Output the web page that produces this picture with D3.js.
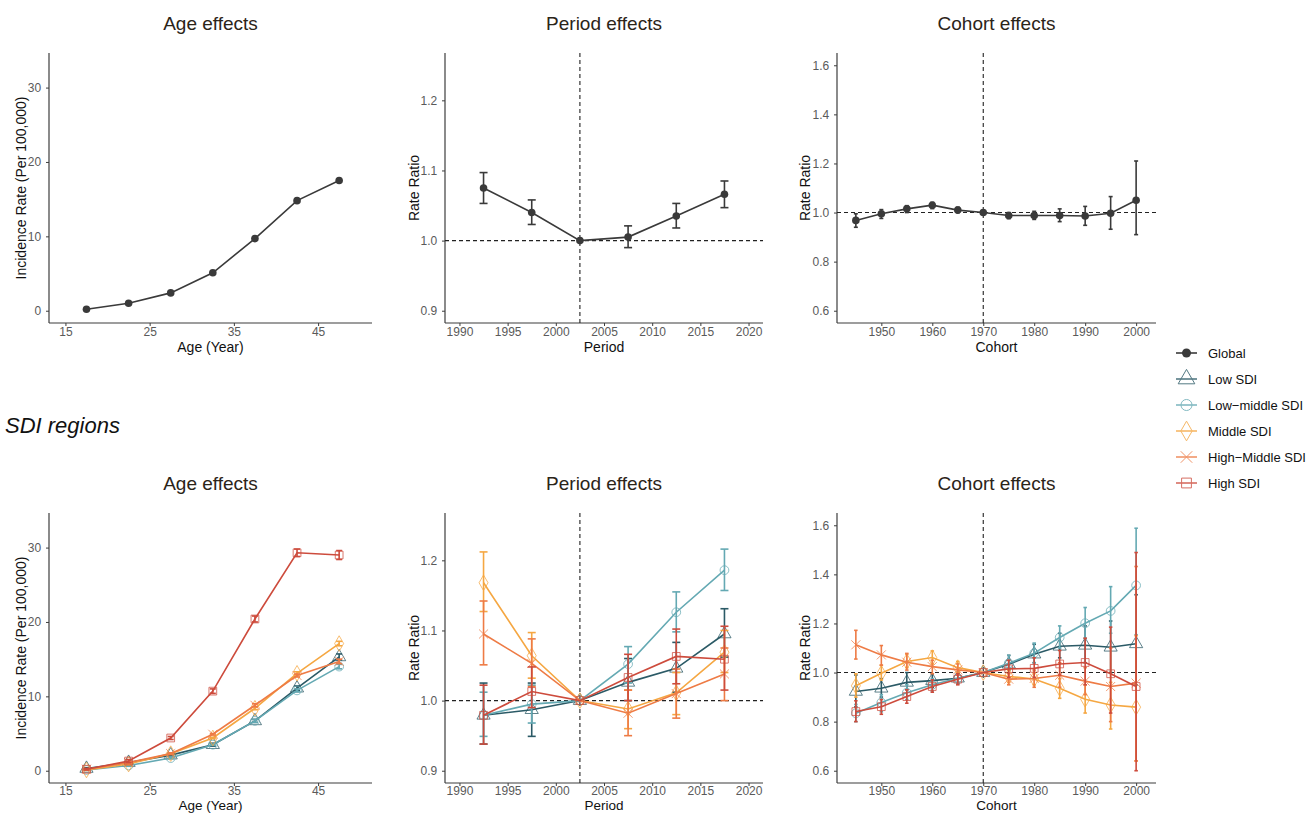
<!DOCTYPE html>
<html><head><meta charset="utf-8">
<script src="https://cdn.jsdelivr.net/npm/d3@7"></script>
<style>
html,body{margin:0;padding:0;background:#fff;}
svg{display:block;font-family:"Liberation Sans",Arial,Helvetica,sans-serif;}
</style></head><body>
<svg id="chart" width="1312" height="813"></svg>
<script>
// ---------------- DATA ----------------
const ageGroups = [17.5, 22.5, 27.5, 32.5, 37.5, 42.5, 47.5];
const periods   = [1992.5, 1997.5, 2002.5, 2007.5, 2012.5, 2017.5];
const cohorts   = [1945, 1950, 1955, 1960, 1965, 1970, 1975, 1980, 1985, 1990, 1995, 2000];

const ageTicks    = [15, 25, 35, 45];
const ageYTicks   = [0, 10, 20, 30];
const periodTicks = [1990, 1995, 2000, 2005, 2010, 2015, 2020];
const periodYTicks= [0.9, 1.0, 1.1, 1.2];
const cohortTicks = [1950, 1960, 1970, 1980, 1990, 2000];
const cohortYTicks= [0.6, 0.8, 1.0, 1.2, 1.4, 1.6];

const seriesNames = ["Global", "Low SDI", "Low\u2212middle SDI", "Middle SDI", "High\u2212Middle SDI", "High SDI"];
const seriesColors = ["#3a3a3a", "#2b5a66", "#64a9b3", "#f5a742", "#ee7b45", "#cd4b3c"];
const seriesShapes = ["dot", "triangle", "circle", "diamond", "cross", "square"];

// Global: age rate; period/cohort [value, lower, upper]
const globalAge = [0.2, 1.0, 2.4, 5.1, 9.7, 14.8, 17.5];
const globalPeriod = [[1.075,1.053,1.097],[1.040,1.023,1.058],[1.0,1.0,1.0],[1.005,0.990,1.021],[1.035,1.018,1.053],[1.066,1.047,1.085]];
const globalCohort = [[0.968,0.940,0.995],[0.995,0.976,1.012],[1.015,1.000,1.028],[1.030,1.016,1.042],[1.010,0.999,1.022],[1.0,1.0,1.0],
  [0.988,0.975,1.000],[0.988,0.972,1.005],[0.988,0.963,1.015],[0.986,0.948,1.025],[0.997,0.932,1.065],[1.050,0.910,1.210]];

// SDI regions: [value, lower, upper]
const lowAge       = [[0.3,0.2,0.4],[1.1,1.0,1.2],[2.1,2.0,2.3],[3.5,3.3,3.7],[6.7,6.5,6.9],[11.1,10.8,11.4],[15.3,14.9,15.7]];
const lowMidAge    = [[0.1,0.05,0.15],[0.7,0.6,0.8],[1.7,1.6,1.8],[3.5,3.4,3.6],[6.7,6.5,6.9],[10.8,10.6,11.0],[14.0,13.7,14.3]];
const midAge       = [[0.1,0.05,0.15],[0.9,0.8,1.0],[2.3,2.2,2.4],[4.4,4.3,4.5],[8.4,8.2,8.6],[13.1,12.9,13.3],[17.1,16.8,17.4]];
const highMidAge   = [[0.2,0.15,0.25],[1.1,1.0,1.2],[2.3,2.2,2.4],[4.9,4.8,5.0],[8.8,8.6,9.0],[12.8,12.6,13.0],[14.7,14.4,15.0]];
const highAge      = [[0.2,0.1,0.3],[1.3,1.1,1.5],[4.4,4.2,4.6],[10.7,10.4,11.0],[20.4,20.0,20.8],[29.3,28.8,29.8],[29.0,28.4,29.6]];

const lowPeriod    = [[0.979,0.938,1.025],[0.987,0.949,1.025],[1.0,1.0,1.0],[1.026,1.000,1.060],[1.046,1.012,1.083],[1.095,1.062,1.131]];
const lowMidPeriod = [[0.979,0.949,1.012],[0.995,0.968,1.022],[1.0,1.0,1.0],[1.052,1.025,1.077],[1.126,1.098,1.155],[1.186,1.157,1.216]];
const midPeriod    = [[1.168,1.127,1.212],[1.064,1.032,1.097],[1.0,1.0,1.0],[0.988,0.960,1.015],[1.011,0.980,1.040],[1.069,1.040,1.100]];
const highMidPeriod= [[1.095,1.051,1.142],[1.053,1.020,1.088],[1.0,1.0,1.0],[0.982,0.950,1.015],[1.010,0.975,1.045],[1.038,1.000,1.075]];
const highPeriod   = [[0.979,0.938,1.022],[1.013,0.990,1.048],[1.0,1.0,1.0],[1.033,1.000,1.066],[1.063,1.024,1.102],[1.059,1.015,1.106]];

const lowCohort    = [[0.923,0.860,0.990],[0.936,0.900,0.975],[0.960,0.930,1.000],[0.967,0.940,0.995],[0.977,0.955,1.000],[1.0,1.0,1.0],
  [1.034,1.010,1.070],[1.075,1.040,1.115],[1.107,1.060,1.160],[1.111,1.040,1.190],[1.103,1.000,1.210],[1.117,0.950,1.317]];
const lowMidCohort = [[0.834,0.800,0.870],[0.878,0.840,0.910],[0.918,0.890,0.950],[0.950,0.925,0.975],[0.977,0.955,1.000],[1.0,1.0,1.0],
  [1.038,1.010,1.070],[1.079,1.040,1.120],[1.143,1.100,1.190],[1.201,1.140,1.265],[1.251,1.160,1.350],[1.355,1.154,1.588]];
const midCohort    = [[0.946,0.900,0.995],[0.997,0.970,1.030],[1.045,1.020,1.075],[1.061,1.035,1.088],[1.020,1.000,1.045],[1.0,1.0,1.0],
  [0.984,0.960,1.010],[0.974,0.950,1.000],[0.936,0.895,0.975],[0.891,0.835,0.950],[0.868,0.770,0.960],[0.859,0.640,1.150]];
const highMidCohort= [[1.113,1.055,1.172],[1.072,1.030,1.110],[1.042,1.010,1.078],[1.024,0.995,1.050],[1.011,0.990,1.035],[1.0,1.0,1.0],
  [0.973,0.950,0.995],[0.976,0.940,1.010],[0.989,0.940,1.040],[0.965,0.910,1.020],[0.943,0.800,1.100],[0.957,0.640,1.432]];
const highCohort   = [[0.841,0.800,0.885],[0.861,0.830,0.890],[0.902,0.875,0.930],[0.943,0.920,0.970],[0.973,0.950,0.995],[1.0,1.0,1.0],
  [1.015,0.980,1.050],[1.017,0.980,1.060],[1.035,0.990,1.090],[1.041,0.950,1.140],[0.995,0.835,1.185],[0.943,0.600,1.489]];

// ---------------- DRAW ----------------
const svg = d3.select("#chart");
const font = '"Liberation Sans",Arial,Helvetica,sans-serif';

function makePanel(opts) {
  const {left, right, top, bottom, xDomain, yDomain, xTicks, yTicks, yFmt, title, xLabel, xLabelDy, tickDy, xLabelSize,
         yLabel, yLabelX, vline, hline} = opts;
  const x = d3.scaleLinear().domain(xDomain).range([left, right]);
  const y = d3.scaleLinear().domain(yDomain).range([bottom, top]);
  const g = svg.append("g");

  g.append("text").attr("x", (left + right) / 2).attr("y", top - 23)
    .attr("text-anchor", "middle").attr("font-size", 19).attr("fill", "#2b2418").text(title);

  const xa = g.append("g").attr("transform", `translate(0,${bottom})`)
    .call(d3.axisBottom(x).tickValues(xTicks).tickSize(3).tickSizeOuter(0).tickFormat(d3.format("d")));
  const ya = g.append("g").attr("transform", `translate(${left},0)`)
    .call(d3.axisLeft(y).tickValues(yTicks).tickSize(3).tickSizeOuter(0).tickFormat(yFmt));
  [xa, ya].forEach(a => {
    a.select(".domain").attr("stroke", "#3d3d3d").attr("stroke-width", 1.2);
    a.selectAll(".tick line").attr("stroke", "#3d3d3d");
    a.selectAll(".tick text").attr("fill", "#5a5a5a").attr("font-size", 12).attr("font-family", font);
  });
  xa.select(".domain").attr("d", `M${left},0H${right}`);
  ya.select(".domain").attr("d", `M0,${top}V${bottom}`);
  xa.selectAll(".tick text").attr("y", tickDy).attr("dy", "0.71em");
  ya.selectAll(".tick text").attr("dx", "-0.15em");

  g.append("text").attr("x", (left + right) / 2).attr("y", bottom + xLabelDy)
    .attr("text-anchor", "middle").attr("font-size", xLabelSize).attr("fill", "#111").text(xLabel);
  g.append("text").attr("transform", `translate(${yLabelX},${(top + bottom) / 2}) rotate(-90)`)
    .attr("text-anchor", "middle").attr("dominant-baseline", "central")
    .attr("font-size", 14).attr("fill", "#111").text(yLabel);

  const ref = g.append("g");
  if (vline !== undefined) {
    ref.append("line").attr("x1", x(vline)).attr("x2", x(vline)).attr("y1", top).attr("y2", bottom)
      .attr("stroke", "#222").attr("stroke-width", 1.1).attr("stroke-dasharray", "4,3");
  }
  if (hline !== undefined) {
    ref.append("line").attr("x1", left).attr("x2", right).attr("y1", y(hline)).attr("y2", y(hline))
      .attr("stroke", "#222").attr("stroke-width", 1.1).attr("stroke-dasharray", "4,3");
  }
  return {x, y, g};
}

function symbolPath(shape, size) {
  const map = {triangle: d3.symbolTriangle, circle: d3.symbolCircle, diamond: d3.symbolDiamond, cross: d3.symbolX, square: d3.symbolSquare};
  return d3.symbol().type(map[shape]).size(size)();
}
const shapeSize = {triangle: 75, circle: 60, diamond: 70, cross: 55, square: 60};

function drawSeries(p, xs, rows, color, shape, capW, hasErr) {
  const g = p.g.append("g");
  const data = rows.map((r, i) => ({x: xs[i], v: r[0], lo: r[1], hi: r[2]}));
  if (hasErr) {
    data.forEach(d => {
      if (d.lo === d.hi) return;
      const cx = p.x(d.x);
      g.append("line").attr("x1", cx).attr("x2", cx).attr("y1", p.y(d.lo)).attr("y2", p.y(d.hi))
        .attr("stroke", color).attr("stroke-width", 1.6);
      [d.lo, d.hi].forEach(v => g.append("line").attr("x1", cx - capW / 2).attr("x2", cx + capW / 2)
        .attr("y1", p.y(v)).attr("y2", p.y(v)).attr("stroke", color).attr("stroke-width", 1.6));
    });
  }
  g.append("path").datum(data)
    .attr("d", d3.line().x(d => p.x(d.x)).y(d => p.y(d.v)))
    .attr("fill", "none").attr("stroke", color).attr("stroke-width", 1.6);
  data.forEach(d => {
    if (shape === "dot") {
      g.append("circle").attr("cx", p.x(d.x)).attr("cy", p.y(d.v)).attr("r", 3.8).attr("fill", color);
    } else {
      g.append("path").attr("d", symbolPath(shape, shapeSize[shape]))
        .attr("transform", `translate(${p.x(d.x)},${p.y(d.v)})`)
        .attr("fill", "none").attr("stroke", color).attr("stroke-width", 1).attr("stroke-opacity", 0.75);
    }
  });
}

function panels(offsetY, xLabelDy, tickDy, xLabelSize) {
  const t = 53 + offsetY, b = 323 + offsetY;
  const common = {top: t, bottom: b, xLabelDy, tickDy, xLabelSize};
  const age = makePanel({...common, left: 49, right: 372, xDomain: [13.05, 51.4], yDomain: [-1.65, 34.65],
    xTicks: ageTicks, yTicks: ageYTicks, yFmt: d3.format("d"), title: "Age effects", xLabel: "Age (Year)",
    yLabel: "Incidence Rate (Per 100,000)", yLabelX: 21});
  const per = makePanel({...common, left: 445, right: 763, xDomain: [1988.5, 2021.5], yDomain: [0.8825, 1.2675],
    xTicks: periodTicks, yTicks: periodYTicks, yFmt: d3.format(".1f"), title: "Period effects", xLabel: "Period",
    yLabel: "Rate Ratio", yLabelX: 414, vline: 2002.5, hline: 1.0});
  const coh = makePanel({...common, left: 837, right: 1156, xDomain: [1941.3, 2003.9], yDomain: [0.55, 1.65],
    xTicks: cohortTicks, yTicks: cohortYTicks, yFmt: d3.format(".1f"), title: "Cohort effects", xLabel: "Cohort",
    yLabel: "Rate Ratio", yLabelX: 805, vline: 1970, hline: 1.0});
  return {age, per, coh};
}

// top row: global
const topRow = panels(0, 29, 4.5, 14);
drawSeries(topRow.age, ageGroups, globalAge.map(v => [v, v, v]), seriesColors[0], "dot", 0, false);
drawSeries(topRow.per, periods, globalPeriod, seriesColors[0], "dot", 8, true);
drawSeries(topRow.coh, cohorts, globalCohort, seriesColors[0], "dot", 4, true);

// bottom row: SDI regions
const botRow = panels(460, 26.5, 3, 13.5);
const sdiAge = [lowAge, lowMidAge, midAge, highMidAge, highAge];
const sdiPeriod = [lowPeriod, lowMidPeriod, midPeriod, highMidPeriod, highPeriod];
const sdiCohort = [lowCohort, lowMidCohort, midCohort, highMidCohort, highCohort];
for (let i = 0; i < 5; i++) {
  const c = seriesColors[i + 1], s = seriesShapes[i + 1];
  drawSeries(botRow.age, ageGroups, sdiAge[i], c, s, 6, true);
  drawSeries(botRow.per, periods, sdiPeriod[i], c, s, 8, true);
  drawSeries(botRow.coh, cohorts, sdiCohort[i], c, s, 3.5, true);
}

svg.append("text").attr("x", 5).attr("y", 433).attr("font-size", 22).attr("font-style", "italic")
  .attr("fill", "#111").text("SDI regions");

// legend
const legendY = d3.scaleLinear().domain([0, 5]).range([353, 483]);
seriesNames.forEach((name, i) => {
  const cy = legendY(i), col = seriesColors[i];
  const lg = svg.append("g").attr("opacity", i === 0 ? 1 : 0.8);
  lg.append("line").attr("x1", 1176).attr("x2", 1197).attr("y1", cy).attr("y2", cy)
    .attr("stroke", col).attr("stroke-width", 1.6);
  if (seriesShapes[i] === "dot") {
    lg.append("circle").attr("cx", 1186.5).attr("cy", cy).attr("r", 4.5).attr("fill", col);
  } else {
    lg.append("path").attr("d", symbolPath(seriesShapes[i], shapeSize[seriesShapes[i]] * 1.6))
      .attr("transform", `translate(1186.5,${cy})`).attr("fill", "none").attr("stroke", col).attr("stroke-width", 1);
  }
  svg.append("text").attr("x", 1208).attr("y", cy).attr("dominant-baseline", "central")
    .attr("font-size", 13).attr("fill", "#111").text(name);
});
</script>
</body></html>
